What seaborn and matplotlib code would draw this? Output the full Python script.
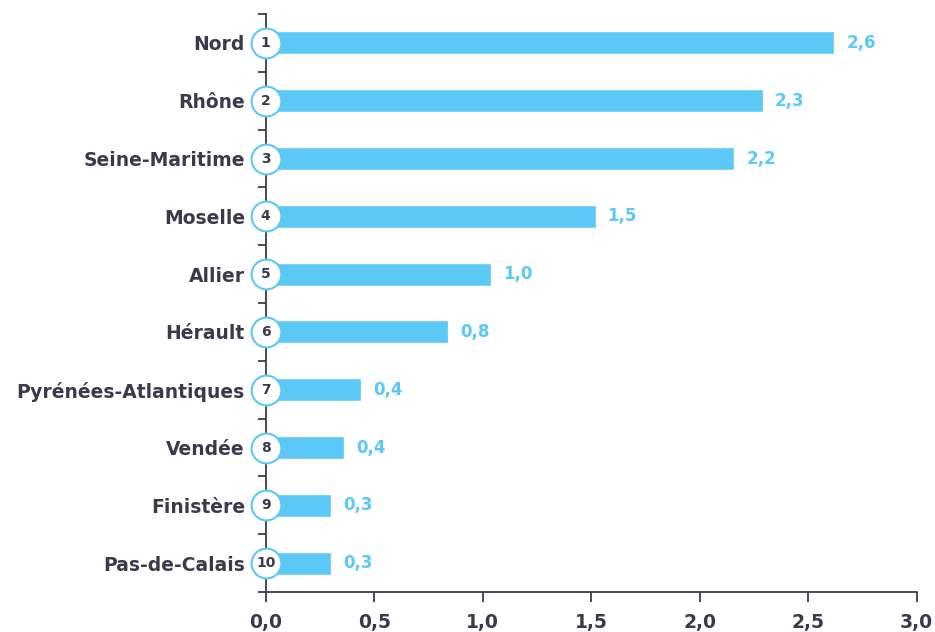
import matplotlib
matplotlib.use("Agg")
import matplotlib.pyplot as plt
from matplotlib.ticker import FuncFormatter, FixedLocator
import seaborn as sns
import pandas as pd

departements = ["Nord", "Rhône", "Seine-Maritime", "Moselle", "Allier", "Hérault",
                "Pyrénées-Atlantiques", "Vendée", "Finistère", "Pas-de-Calais"]
valeurs = [2.62, 2.29, 2.16, 1.52, 1.04, 0.84, 0.44, 0.36, 0.30, 0.30]
rangs = [str(i) for i in range(1, 11)]
x_ticks = [0.0, 0.5, 1.0, 1.5, 2.0, 2.5, 3.0]

BLEU = "#5bc8f5"
TEXTE = "#3b3a4c"

sns.set_theme(style="white")
plt.rcParams["font.family"] = ["DejaVu Sans"]

df = pd.DataFrame({"departement": departements, "valeur": valeurs})

fig = plt.figure(figsize=(9.35, 6.32), dpi=100)
ax = fig.add_axes([0.2842, 0.0633, 0.6962, 0.9145])

sns.barplot(data=df, x="valeur", y="departement", orient="h", color=BLEU,
            saturation=1, width=0.4, ax=ax)

ax.set_xlim(0, 3.0)
ax.set_ylim(len(departements) - 0.5, -0.5)
ax.set_xlabel("")
ax.set_ylabel("")

comma = lambda v, pos: f"{v:.1f}".replace(".", ",")
ax.xaxis.set_major_locator(FixedLocator(x_ticks))
ax.xaxis.set_major_formatter(FuncFormatter(comma))

for s in ["top", "right"]:
    ax.spines[s].set_visible(False)
for s in ["left", "bottom"]:
    ax.spines[s].set_color(TEXTE)
    ax.spines[s].set_linewidth(1.3)

ax.tick_params(axis="x", which="major", bottom=True, direction="out", length=7,
               width=1.3, color=TEXTE, labelsize=13.5, labelcolor=TEXTE, pad=8)
ax.tick_params(axis="y", which="major", left=True, length=0, labelsize=13.5,
               labelcolor=TEXTE, pad=15)
ax.yaxis.set_minor_locator(FixedLocator([i - 0.5 for i in range(len(departements) + 1)]))
ax.tick_params(axis="y", which="minor", left=True, direction="out", length=6,
               width=1.3, color=TEXTE)
for lab in ax.get_xticklabels() + ax.get_yticklabels():
    lab.set_fontweight("bold")

# rank badges sitting on the axis line
ax.scatter([0] * len(departements), range(len(departements)), s=460,
           facecolor="white", edgecolor=BLEU, linewidth=1.5, zorder=5,
           clip_on=False)
for i, r in enumerate(rangs):
    ax.text(0, i, r, ha="center", va="center", fontsize=10, fontweight="bold",
            color=TEXTE, zorder=6)

# value labels at bar ends
for i, v in enumerate(valeurs):
    ax.text(v + 0.055, i, comma(v, None), ha="left", va="center", fontsize=12,
            fontweight="bold", color=BLEU)

fig.savefig("out.png", dpi=100)
